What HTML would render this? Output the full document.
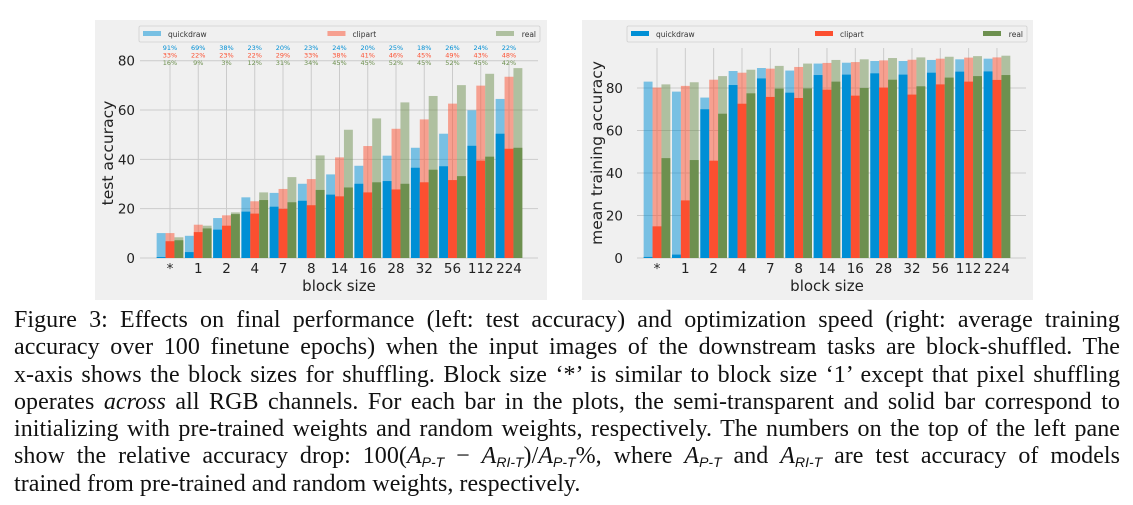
<!DOCTYPE html>
<html><head><meta charset="utf-8">
<style>
body{margin:0;background:#fff;width:1133px;height:505px;overflow:hidden;position:relative;font-family:"Liberation Serif",serif;}
.cap{position:absolute;left:14px;width:1106px;font-size:24px;letter-spacing:0.05px;line-height:27.3px;top:307px;color:#111;}
.cap div{text-align:justify;text-align-last:justify;white-space:nowrap;height:27.3px;}
.cap div.last{text-align-last:left;}
.cap .s{font-size:14px;letter-spacing:0;font-family:"Liberation Sans",sans-serif;font-style:italic;position:relative;top:4px;line-height:0;}
svg text{font-family:"DejaVu Sans",sans-serif;}
</style></head><body>
<svg id="chart" width="1133" height="302" style="position:absolute;left:0;top:0"></svg>
<div class="cap">
<div>Figure 3: Effects on final performance (left: test accuracy) and optimization speed (right: average training</div>
<div>accuracy over 100 finetune epochs) when the input images of the downstream tasks are block-shuffled. The</div>
<div>x-axis shows the block sizes for shuffling. Block size ‘*’ is similar to block size ‘1’ except that pixel shuffling</div>
<div>operates <i>across</i> all RGB channels. For each bar in the plots, the semi-transparent and solid bar correspond to</div>
<div>initializing with pre-trained weights and random weights, respectively. The numbers on the top of the left pane</div>
<div>show the relative accuracy drop: 100(<i>A</i><span class="s">P-T</span> − <i>A</i><span class="s">RI-T</span>)/<i>A</i><span class="s">P-T</span>%, where <i>A</i><span class="s">P-T</span> and <i>A</i><span class="s">RI-T</span> are test accuracy of models</div>
<div class="last">trained from pre-trained and random weights, respectively.</div>
</div>
<script>
const categories = ["*","1","2","4","7","8","14","16","28","32","56","112","224"];
const seriesNames = ["quickdraw","clipart","real"];
// left: test accuracy
const testPretrainedQuickdraw = [10.1,9,16.2,24.6,26.4,30.1,33.9,37.4,41.5,44.7,50.4,59.9,64.5];
const testRandomQuickdraw = [0.4,2.4,11.5,18.8,20.8,23.2,25.7,30.1,31.2,36.6,37.2,45.5,50.4];
const testPretrainedClipart = [10.1,13.5,17.3,23,28,32,40.8,45.4,52.4,56.2,62.6,69.9,73.5];
const testRandomClipart = [6.8,10.5,13.1,18,19.9,21.4,25,26.6,27.8,30.7,31.6,39.5,44.3];
const testPretrainedReal = [8.4,13.1,18.5,26.6,32.8,41.6,52,56.6,63.1,65.7,70.1,74.7,77];
const testRandomReal = [7.2,12,17.8,23.5,22.6,27.6,28.6,30.7,30.1,35.8,33.2,41.1,44.7];
const dropQuickdraw = ["91%","69%","38%","23%","20%","23%","24%","20%","25%","18%","26%","24%","22%"];
const dropClipart = ["33%","22%","23%","22%","29%","33%","38%","41%","46%","45%","49%","43%","48%"];
const dropReal = ["16%","9%","3%","12%","31%","34%","45%","45%","52%","45%","52%","45%","42%"];
const leftTicks = [0,20,40,60,80];
// right: mean training accuracy
const trainPretrainedQuickdraw = [83,78.3,75.5,88,89.4,88.2,91.5,91.9,92.7,92.7,93.2,93.5,93.8];
const trainRandomQuickdraw = [0.5,1.6,70,81.4,84.5,77.8,86.1,86.3,86.9,86.3,87.2,87.7,87.8];
const trainPretrainedClipart = [80.2,81,83.9,87.2,89.1,89.9,91.8,92.2,93,93.3,93.8,94.3,94.4];
const trainRandomClipart = [14.9,27.1,45.8,72.6,75.8,75.3,79.2,76.4,80.2,76.9,81.7,83,83.8];
const trainPretrainedReal = [81.7,82.7,85.6,88.6,90.4,91.5,93.2,93.5,94.1,94.4,94.7,95,95.2];
const trainRandomReal = [47,46.1,67.9,77.5,79.7,79.8,83,80,83.9,80.8,84.9,85.6,86.1];
const rightTicks = [0,20,40,60,80];

const colors = ["#008fd5","#fc4f30","#6d904f"];
const NS = "http://www.w3.org/2000/svg";
const svg = document.getElementById("chart");
function mk(tag, attrs, parent){const e=document.createElementNS(NS,tag);for(const k in attrs)e.setAttribute(k,attrs[k]);(parent||svg).appendChild(e);return e;}

function drawChart(cfg){
  const g = mk("g",{});
  
  
  const bg = mk("rect",{x:cfg.px0,y:20,width:cfg.px1-cfg.px0,height:280,fill:"#f0f0f0"},g);
  
  
  const yS = v => cfg.y0 - v*cfg.ppu;
  const xC = i => cfg.c0 + i*cfg.step;
  cfg.ticks.forEach(t=>{
    const l = mk("line",{x1:cfg.gx0,x2:cfg.gx1,y1:yS(t),y2:yS(t),stroke:"#cbcbcb","stroke-width":1},g);
    
    
    const tx = mk("text",{x:cfg.tickX,y:yS(t)+5,"text-anchor":"end","font-size":13.5,fill:"#222"},g);
    tx.textContent = t;
    
    
  });
  categories.forEach((c,i)=>{
    const l = mk("line",{x1:xC(i),x2:xC(i),y1:cfg.vTop,y2:cfg.y0,stroke:"#cbcbcb","stroke-width":1},g);
    
    
  });
  const bw = cfg.bw;
  for(let s=0;s<3;s++){
    categories.forEach((c,i)=>{
      const x = xC(i) + (s-1)*bw - bw/2;
      const p = cfg.pre[s][i], r = cfg.rnd[s][i];
      const bp = mk("rect",{x:x,y:yS(p),width:bw,height:p*cfg.ppu,fill:colors[s],"fill-opacity":0.5},g);
      
      
      const br = mk("rect",{x:x,y:yS(r),width:bw,height:r*cfg.ppu,fill:colors[s]},g);
      
      
    });
  }
  categories.forEach((c,i)=>{
    const tx = mk("text",{x:xC(i),y:273,"text-anchor":"middle","font-size":13.5,fill:"#222"},g);
    tx.textContent = c;
    
    
  });
  const xl = mk("text",{x:cfg.xlX,y:291,"text-anchor":"middle","font-size":15,fill:"#222"},g);
  xl.textContent = "block size";
  
  
  const yl = mk("text",{x:0,y:0,"text-anchor":"middle","font-size":15.5,fill:"#222",transform:`translate(${cfg.ylX},${cfg.ylY}) rotate(-90)`},g);
  yl.textContent = cfg.ylabel;
  
  
  const lg = mk("g",{},g);
  
  
  mk("rect",{x:cfg.lg0,y:26,width:cfg.lg1-cfg.lg0,height:16,fill:"#f0f0f0",stroke:"#d0d0d0","stroke-width":0.8,rx:1.5},lg);
  const w = cfg.lg1-cfg.lg0;
  for(let s=0;s<3;s++){
    const ex = s==0?cfg.lg0+4 : s==1? cfg.lg0+w*0.47 : cfg.lg1-44;
    const e = mk("g",{},lg);
    
    
    mk("rect",{x:ex,y:31,width:18,height:5,fill:colors[s],"fill-opacity":cfg.legAlpha},e);
    const t = mk("text",{x:ex+25,y:37,"font-size":7.5,fill:"#333"},e);
    if(s==2){t.setAttribute("x",cfg.lg1-4);t.setAttribute("text-anchor","end");}
    t.textContent = seriesNames[s];
  }
}

drawChart({name:"left-chart-test-accuracy",px0:95,px1:547,y0:258,ppu:2.466,c0:170,step:28.25,bw:8.9,
  gx0:140,gx1:538,vTop:62,tickX:135,ticks:leftTicks,ylabel:"test accuracy",ylX:113,ylY:153,xlX:339,
  lg0:139,lg1:540,legAlpha:0.5,
  pre:[testPretrainedQuickdraw,testPretrainedClipart,testPretrainedReal],
  rnd:[testRandomQuickdraw,testRandomClipart,testRandomReal]});
drawChart({name:"right-chart-training-accuracy",px0:582,px1:1033,y0:258,ppu:2.125,c0:657,step:28.33,bw:8.9,
  gx0:637,gx1:1026,vTop:48,tickX:623,ticks:rightTicks,ylabel:"mean training accuracy",ylX:602,ylY:153,xlX:827,
  lg0:627,lg1:1027,legAlpha:1,
  pre:[trainPretrainedQuickdraw,trainPretrainedClipart,trainPretrainedReal],
  rnd:[trainRandomQuickdraw,trainRandomClipart,trainRandomReal]});

const dropRows = [dropQuickdraw,dropClipart,dropReal];
const dropY = [50,57.5,65];
dropRows.forEach((row,s)=>{
  row.forEach((v,i)=>{
    const t = mk("text",{x:170+i*28.25,y:dropY[s],"text-anchor":"middle","font-size":6.5,fill:colors[s]});
    t.textContent = v;
    
    
  });
});
</script>
</body></html>
